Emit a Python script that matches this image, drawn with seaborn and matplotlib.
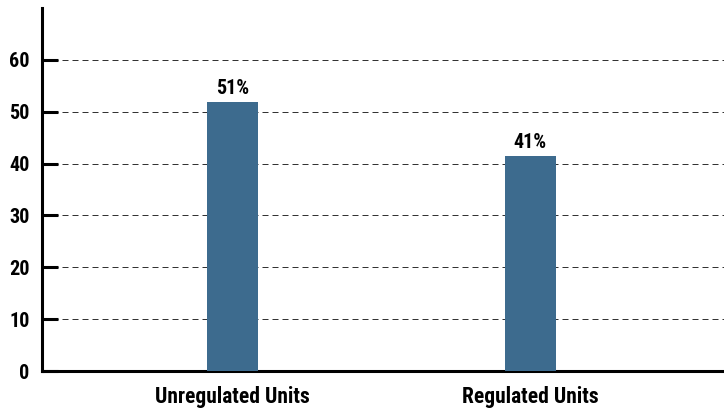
import pandas as pd
import seaborn as sns
import matplotlib.pyplot as plt

# Chart data.
categories = ["Unregulated Units", "Regulated Units"]
values = [51.9, 41.5]
bar_labels = ["51%", "41%"]
yticks = [0, 10, 20, 30, 40, 50, 60]

df = pd.DataFrame({"unit": categories, "share": values})

sns.set_style("white")
plt.rcParams["font.family"] = ["Roboto Condensed", "Liberation Sans Narrow", "DejaVu Sans"]
plt.rcParams["font.weight"] = "bold"
plt.rcParams["font.stretch"] = "condensed"

fig = plt.figure(figsize=(7.24, 4.11), dpi=100)
ax = fig.add_axes([0.058, 0.097, 0.942, 0.884])

sns.barplot(data=df, x="unit", y="share", color="#3d6b8e", width=0.171,
            saturation=1, edgecolor="none", linewidth=0, ax=ax, zorder=3)

# Percentage labels above the bars.
ax.bar_label(ax.containers[0], labels=bar_labels, padding=3,
             fontsize=14.5, fontweight="bold", color="black")

ax.set_xlim(-0.64, 1.65)
ax.set_ylim(0, 70)
ax.set_yticks(yticks)
ax.set_xlabel("")
ax.set_ylabel("")

ax.yaxis.grid(True, color="#333333", linestyle=(0, (6, 4)), linewidth=0.72, zorder=0)
ax.xaxis.grid(False)
ax.set_axisbelow(True)

for side in ["top", "right"]:
    ax.spines[side].set_visible(False)
for side in ["left", "bottom"]:
    ax.spines[side].set_linewidth(2.2)
    ax.spines[side].set_color("black")

ax.tick_params(axis="y", left=True, direction="in", length=11.5, width=2.2,
               color="black", labelcolor="black", labelsize=14.5, pad=9)
ax.tick_params(axis="x", bottom=False, length=0, labelcolor="black",
               labelsize=15.5, pad=11)
for lab in ax.get_xticklabels() + ax.get_yticklabels():
    lab.set_fontweight("bold")

fig.savefig("out.png", dpi=100)
